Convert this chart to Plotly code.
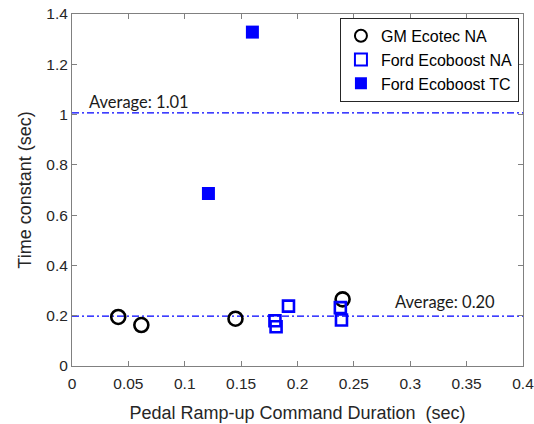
import plotly.graph_objects as go

# Data
gm_x = [0.041, 0.0615, 0.145, 0.240]
gm_y = [0.195, 0.163, 0.188, 0.265]

ford_na_x = [0.180, 0.181, 0.192, 0.238, 0.239]
ford_na_y = [0.180, 0.156, 0.238, 0.232, 0.183]

ford_tc_x = [0.121, 0.160]
ford_tc_y = [0.686, 1.328]

avg_values = [1.007, 0.198]
avg_labels = ["Average: 1.01", "Average: 0.20"]
avg_label_x = [0.0135, 0.285]
avg_label_y = [1.052, 0.253]

x_ticks = [0, 0.05, 0.1, 0.15, 0.2, 0.25, 0.3, 0.35, 0.4]
x_tick_text = ["0", "0.05", "0.1", "0.15", "0.2", "0.25", "0.3", "0.35", "0.4"]
y_ticks = [0, 0.2, 0.4, 0.6, 0.8, 1.0, 1.2, 1.4]
y_tick_text = ["0", "0.2", "0.4", "0.6", "0.8", "1", "1.2", "1.4"]

FONT = "Liberation Sans, Arial, sans-serif"

fig = go.Figure()

for v in avg_values:
    fig.add_trace(go.Scatter(
        x=[x_ticks[0], x_ticks[-1]], y=[v, v], mode="lines",
        line=dict(color="#0000ff", width=1.3, dash="7px,3px,2px,3px"),
        showlegend=False, hoverinfo="skip"))

fig.add_trace(go.Scatter(
    x=gm_x, y=gm_y, mode="markers", name="GM Ecotec NA",
    marker=dict(symbol="circle-open", size=14, color="black", line=dict(width=2.6, color="black"))))
fig.add_trace(go.Scatter(
    x=ford_na_x, y=ford_na_y, mode="markers", name="Ford Ecoboost NA",
    marker=dict(symbol="square-open", size=11, color="#0000ff", line=dict(width=2.6, color="#0000ff"))))
fig.add_trace(go.Scatter(
    x=ford_tc_x, y=ford_tc_y, mode="markers", name="Ford Ecoboost TC",
    marker=dict(symbol="square", size=13, color="#0000ff", line=dict(width=0))))

for t, x, y in zip(avg_labels, avg_label_x, avg_label_y):
    fig.add_annotation(x=x, y=y, text=t, showarrow=False, xanchor="left", yanchor="middle",
                       font=dict(family="Lato, Carlito, sans-serif", size=16.5, color="#1a1a1a"))

# y-axis title placed as rotated text left of the tick labels
fig.add_annotation(x=-0.105, y=0.5, xref="paper", yref="paper", text="Time constant (sec)",
                   textangle=-90, showarrow=False, xanchor="center", yanchor="middle",
                   font=dict(family=FONT, size=18, color="#262626"))

axis_common = dict(
    showgrid=False, zeroline=False, showline=True, linecolor="#808080", linewidth=1,
    mirror="ticks", ticks="inside", ticklen=5, tickcolor="#808080", tickwidth=1,
    tickfont=dict(family=FONT, size=15.5, color="#262626"), automargin=False,
    ticklabeloverflow="allow",
)

fig.update_layout(
    width=534, height=424,
    margin=dict(l=72, r=11, t=14, b=58),
    paper_bgcolor="white", plot_bgcolor="white",
    xaxis=dict(range=[0, 0.4], tickvals=x_ticks, ticktext=x_tick_text,
               ticklabelstandoff=3,
               title=dict(text="Pedal Ramp-up Command Duration&nbsp;&nbsp;(sec)",
                          font=dict(family=FONT, size=18, color="#262626")),
               **axis_common),
    yaxis=dict(range=[0, 1.4], tickvals=y_ticks, ticktext=y_tick_text,
               **axis_common),
    legend=dict(x=0.991, y=0.989, xanchor="right", yanchor="top",
                bgcolor="white", bordercolor="#262626", borderwidth=1,
                font=dict(family=FONT, size=16, color="black"),
                tracegroupgap=0, itemsizing="constant", itemwidth=30),
    showlegend=True,
)

fig.write_html("out.html")
